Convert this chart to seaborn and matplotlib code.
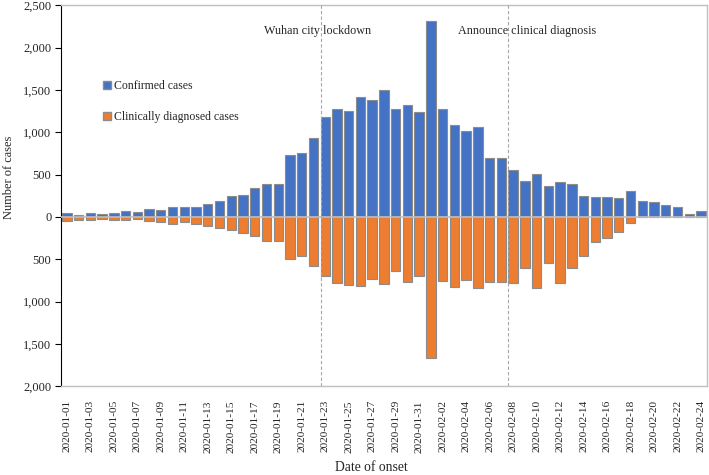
import matplotlib
matplotlib.use("Agg")
import matplotlib.pyplot as plt
import matplotlib.ticker as mticker
from matplotlib.patches import Patch
import seaborn as sns
import pandas as pd

dates = pd.date_range("2020-01-01", "2020-02-24").strftime("%Y-%m-%d").tolist()

confirmed = [47, 20, 43, 32, 43, 71, 63, 87, 79, 114, 118, 122, 154, 185, 248, 264,
             343, 390, 386, 729, 756, 934, 1178, 1280, 1250, 1414, 1383, 1497, 1269,
             1316, 1237, 2309, 1273, 1091, 1009, 1060, 693, 690, 552, 429, 512, 359,
             414, 394, 248, 240, 232, 221, 311, 189, 177, 138, 118, 35, 67]
clinical = [43, 39, 32, 28, 35, 32, 28, 47, 55, 79, 63, 79, 106, 130, 154, 189,
            221, 287, 284, 493, 461, 579, 697, 784, 800, 815, 737, 792, 634, 768,
            693, 1670, 756, 823, 745, 835, 764, 772, 784, 599, 839, 548, 776, 603,
            457, 292, 248, 177, 67, 0, 0, 0, 0, 0, 0]

events = [("2020-01-23", "Wuhan city lockdown"), ("2020-02-08", "Announce clinical diagnosis")]

sns.set_theme(style="white")
plt.rcParams["font.family"] = ["Liberation Serif", "DejaVu Serif"]

df = pd.DataFrame({"date": dates, "confirmed": confirmed,
                   "clinical": [-v for v in clinical]})

fig = plt.figure(figsize=(7.09, 4.75), dpi=100)
ax = fig.add_axes([0.086, 0.187, 0.911, 0.802])

blue = "#4472C4"
orange = "#ED7D31"
sns.barplot(data=df, x="date", y="confirmed", color=blue, edgecolor="#8c8c8c",
            linewidth=0.8, width=0.8, saturation=1, ax=ax)
sns.barplot(data=df, x="date", y="clinical", color=orange, edgecolor="#8c8c8c",
            linewidth=0.8, width=0.8, saturation=1, ax=ax)

ax.set_ylim(-2000, 2500)
ax.set_xlim(-0.5, len(dates) - 0.5)
ax.yaxis.set_major_locator(mticker.MultipleLocator(500))
ax.yaxis.set_major_formatter(mticker.FuncFormatter(lambda v, p: f"{abs(int(round(v))):,}"))
ax.axhline(0, color="#bfbfbf", lw=1.2, zorder=3)

ax.set_xticks(range(0, len(dates), 2))
ax.set_xticklabels(dates[::2], rotation=90, fontsize=8.2)
ax.tick_params(axis="y", labelsize=9, left=True, length=4, width=0.8, color="black", pad=3)
ax.tick_params(axis="x", bottom=False, pad=4)

for s in ["top", "right", "bottom"]:
    ax.spines[s].set_color("#bfbfbf")
    ax.spines[s].set_linewidth(1)
ax.spines["left"].set_color("black")
ax.spines["left"].set_linewidth(0.8)

for d, label in events:
    xi = dates.index(d) - 0.4
    ax.axvline(xi, color="#a6a6a6", lw=0.8, ls=(0, (3, 2)), zorder=4)

ax.text(dates.index("2020-01-23") - 0.65, 2200, events[0][1], ha="center", va="center", fontsize=8.7)
ax.text(dates.index("2020-02-08") + 1.2, 2200, events[1][1], ha="center", va="center", fontsize=8.7)

ax.set_xlabel("Date of onset", fontsize=9.8)
ax.set_ylabel("Number of cases", fontsize=8.9)
ax.xaxis.set_label_coords(0.48, -0.197)
ax.yaxis.set_label_coords(-0.0712, 0.549)

handles = [Patch(facecolor=blue, edgecolor="#8c8c8c"), Patch(facecolor=orange, edgecolor="#8c8c8c")]
ax.legend(handles, ["Confirmed cases", "Clinically diagnosed cases"], loc="upper left",
          bbox_to_anchor=(0.058, 0.815), frameon=False, fontsize=8.5, handlelength=0.65,
          handleheight=0.65, handletextpad=0.25, labelspacing=1.55, borderaxespad=0)

fig.savefig("out.png", dpi=100)
